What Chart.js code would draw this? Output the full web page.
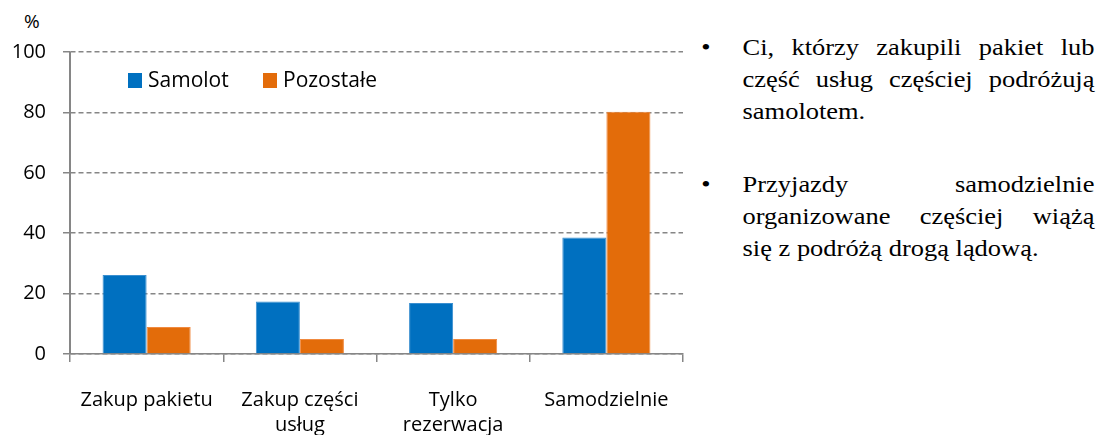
<!DOCTYPE html>
<html>
<head>
<meta charset="utf-8">
<script src="https://cdn.jsdelivr.net/npm/chart.js@4"></script>
<style>
  body { margin: 0; background: #fff; }
  #wrap { position: relative; width: 1117px; height: 435px; overflow: hidden; }
  #chartBox { position: absolute; left: 0; top: 0; width: 700px; height: 435px; }
  #pct { position: absolute; left: 24px; top: 8px; font-family: "Open Sans", sans-serif; font-size: 19px; color: #000; }
  #notes { position: absolute; left: 700px; top: 32px; width: 343px; transform: scaleX(1.15); transform-origin: 0 0;
           font-family: "Liberation Serif", "Times New Roman", Times, serif; font-size: 23px; color: #000; }
  .item { position: relative; padding-left: 37px; margin-bottom: 41px; }
  .item::before { content: "\2022"; position: absolute; left: 1px; top: 0; line-height: 32px; }
  .ln { line-height: 32px; white-space: nowrap; }
  .ln.j { text-align: justify; text-align-last: justify; }
</style>
</head>
<body>
<div id="wrap">
  <div id="pct">%</div>
  <div id="chartBox"><canvas id="myChart"></canvas></div>
  <div id="notes">
    <div class="item">
      <div class="ln j">Ci, którzy zakupili pakiet lub</div>
      <div class="ln j">część usług częściej podróżują</div>
      <div class="ln">samolotem.</div>
    </div>
    <div class="item">
      <div class="ln j">Przyjazdy samodzielnie</div>
      <div class="ln j">organizowane częściej wiążą</div>
      <div class="ln">się z podróżą drogą lądową.</div>
    </div>
  </div>
</div>
<script>
const categories = ['Zakup pakietu', ['Zakup części', 'usług'], ['Tylko', 'rezerwacja'], 'Samodzielnie'];
const samolot = [26.2, 17.4, 16.9, 38.6];
const pozostale = [8.9, 5.0, 5.0, 80.2];
const seriesNames = ['Samolot', 'Pozostałe'];
const yTicks = [0, 20, 40, 60, 80, 100];

const axisGrey = '#868686';

// legend drawn inside the plot, like the original + solid y axis line
const insideLegend = {
  id: 'insideLegend',
  afterDraw(chart) {
    const ctx = chart.ctx;
    const area = chart.chartArea;
    ctx.save();
    ctx.strokeStyle = axisGrey;
    ctx.lineWidth = 2;
    ctx.beginPath();
    ctx.moveTo(area.left, area.top);
    ctx.lineTo(area.left, area.bottom);
    ctx.stroke();

    let x = area.left + 58;
    const y = area.top + 28;
    ctx.font = '21px "Open Sans", sans-serif';
    ctx.textBaseline = 'middle';
    chart.data.datasets.forEach((ds) => {
      ctx.fillStyle = ds.backgroundColor;
      ctx.fillRect(x, y - 7, 14, 15);
      ctx.fillStyle = '#000';
      ctx.fillText(ds.label, x + 20, y + 1);
      x += 135;
    });
    ctx.restore();
  }
};

const ctx = document.getElementById('myChart').getContext('2d');
new Chart(ctx, {
  type: 'bar',
  data: {
    labels: categories,
    datasets: [
      { label: seriesNames[0], data: samolot, backgroundColor: '#0070C0', borderColor: '#3a8fd0', borderWidth: 1 },
      { label: seriesNames[1], data: pozostale, backgroundColor: '#E36C0A', borderColor: '#f08a40', borderWidth: 1 }
    ]
  },
  options: {
    responsive: true,
    maintainAspectRatio: false,
    animation: false,
    layout: { padding: { top: 52, right: 17, left: 0, bottom: 0 } },
    datasets: { bar: { categoryPercentage: 0.575, barPercentage: 1 } },
    plugins: { legend: { display: false }, tooltip: { enabled: false } },
    scales: {
      x: {
        grid: { drawOnChartArea: false, color: axisGrey, tickLength: 8, lineWidth: 1.5 },
        border: { color: axisGrey, width: 1.5 },
        ticks: { color: '#000', font: { family: 'Open Sans', size: 20, lineHeight: 1.25 }, padding: 26, maxRotation: 0 },
        afterFit(scale) { scale.height = 81; }
      },
      y: {
        min: 0,
        max: 100,
        afterBuildTicks(scale) { scale.ticks = yTicks.map(v => ({ value: v })); },
        grid: { color: axisGrey, lineWidth: 1.5, tickLength: 7 },
        border: { color: axisGrey, width: 1.5, dash: [5, 3] },
        ticks: { color: '#000', font: { family: 'Open Sans', size: 20 }, padding: 17 },
        afterFit(scale) { scale.width = 70; }
      }
    }
  },
  plugins: [insideLegend]
});
</script>
</body>
</html>
